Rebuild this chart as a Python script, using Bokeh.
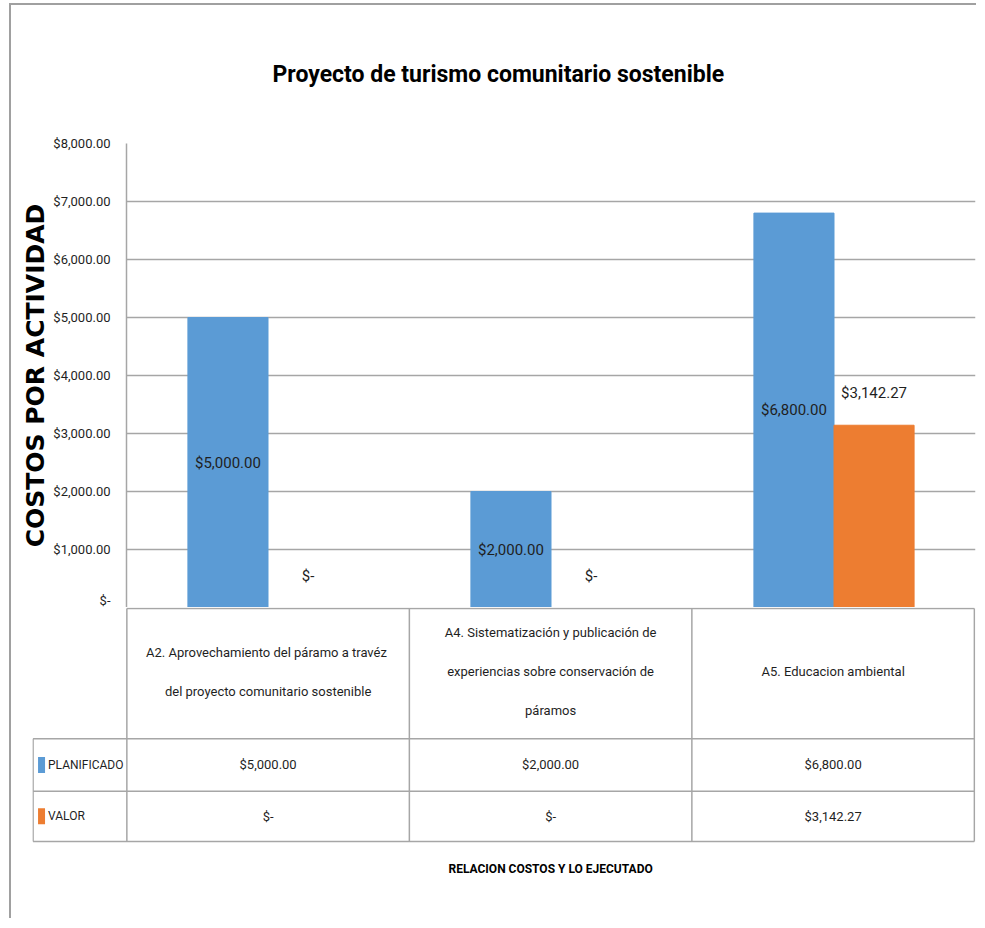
from bokeh.plotting import figure
from bokeh.models import (FactorRange, Range1d, FixedTicker, NumeralTickFormatter,
                          ColumnDataSource, Title)
from bokeh.layouts import column
from bokeh.transform import dodge
from bokeh.embed import file_html
from bokeh.resources import INLINE
from bokeh.core.properties import value

# ---------------- data ----------------
cat_keys = ["A2", "A4", "A5"]
categories = [
    "A2. Aprovechamiento  del páramo a travéz\ndel proyecto comunitario sostenible",
    "A4. Sistematización y publicación de\nexperiencias sobre conservación de\npáramos",
    "A5. Educacion ambiental",
]
planificado = [5000.00, 2000.00, 6800.00]
valor = [0.00, 0.00, 3142.27]
series_names = ["PLANIFICADO", "VALOR"]
y_ticks = [0, 1000, 2000, 3000, 4000, 5000, 6000, 7000, 8000]

title_text = "Proyecto de turismo comunitario sostenible"
y_title = "COSTOS POR ACTIVIDAD"
x_title = "RELACION COSTOS Y LO EJECUTADO"

BLUE = "#5b9bd5"
ORANGE = "#ed7d31"
GRID = "#a6a6a6"
TXT = "#1f1f1f"
FONT = "Roboto"


def fmt(v):
    return "$-" if v == 0 else "${:,.2f}".format(v)


src = ColumnDataSource(dict(
    cat=cat_keys,
    plan=planificado,
    val=valor,
    plan_mid=[v / 2 for v in planificado],
    plan_lbl=[fmt(v) for v in planificado],
    val_lbl=[fmt(v) for v in valor],
))

# ---------------- chart ----------------
pA = figure(x_range=FactorRange(*cat_keys, range_padding=0), y_range=Range1d(0, 8000),
            width=965, height=602, output_backend="svg", toolbar_location=None,
            min_border_left=115, min_border_right=1, min_border_top=138, min_border_bottom=0,
            frame_align=False)
pA.outline_line_color = None
pA.background_fill_color = "white"

bw = 0.283
pA.vbar(x=dodge("cat", -bw / 2, range=pA.x_range), top="plan", width=bw, source=src,
        fill_color=BLUE, line_color=BLUE)
pA.vbar(x=dodge("cat", bw / 2, range=pA.x_range), top="val", width=bw, source=src,
        fill_color=ORANGE, line_color=ORANGE)

pA.text(x=dodge("cat", -bw / 2, range=pA.x_range), y="plan_mid", text="plan_lbl", source=src,
        text_align="center", text_baseline="middle", text_font=value(FONT),
        text_font_size="15px", text_color=TXT)
pA.text(x=dodge("cat", bw / 2, range=pA.x_range), y="val", text="val_lbl", source=src,
        text_align="center", text_baseline="middle", text_font=value(FONT),
        text_font_size="15px", text_color=TXT, y_offset=-32)

pA.xaxis.visible = False
pA.xgrid.grid_line_color = None
pA.ygrid.grid_line_color = GRID
pA.ygrid.grid_line_width = 1.5
pA.yaxis.ticker = FixedTicker(ticks=y_ticks)
pA.yaxis.formatter = NumeralTickFormatter(format="$0,0.00")
pA.yaxis.major_label_overrides = {0: "$-"}
pA.yaxis.major_tick_line_color = None
pA.yaxis.minor_tick_line_color = None
pA.yaxis.major_tick_out = 0
pA.yaxis.major_label_standoff = 16
pA.yaxis.axis_line_color = GRID
pA.yaxis.axis_line_width = 1.5
pA.yaxis.major_label_text_font = FONT
pA.yaxis.major_label_text_font_size = "13px"
pA.yaxis.major_label_text_color = TXT
pA.yaxis.axis_label = y_title
pA.yaxis.axis_label_text_font = "DejaVu Sans"
pA.yaxis.axis_label_text_font_style = "bold"
pA.yaxis.axis_label_text_font_size = "25px"
pA.yaxis.axis_label_text_color = "#000000"
pA.yaxis.axis_label_standoff = 0

pA.title = Title(text=title_text, align="left", offset=146, text_font=FONT,
                 text_font_size="23px", text_font_style="bold", text_color="#000000",
                 vertical_align="top", standoff=108)

# ---------------- data table ----------------
leg_w = 0.332
pB = figure(x_range=Range1d(-leg_w - 0.002, 3.004), y_range=Range1d(-2, 237),
            width=965, height=311, output_backend="svg", toolbar_location=None,
            min_border_left=21, min_border_right=1, min_border_top=0, min_border_bottom=75,
            frame_align=False)
pB.outline_line_color = None
pB.axis.visible = False
pB.grid.grid_line_color = None

n = len(cat_keys)
row_val = (0, 51)
row_plan = (51, 104)
row_head = (104, 236)
# horizontal lines
pB.segment(x0=[0, -leg_w, -leg_w, -leg_w], x1=[n] * 4,
           y0=[row_head[1], row_head[0], row_plan[0], row_val[0]],
           y1=[row_head[1], row_head[0], row_plan[0], row_val[0]],
           line_color=GRID, line_width=1.5)
# vertical lines
xs = list(range(n + 1))
pB.segment(x0=xs + [-leg_w], x1=xs + [-leg_w], y0=[0] * (n + 2),
           y1=[row_head[1]] * (n + 1) + [row_head[0]], line_color=GRID, line_width=1.5)

centers = [i + 0.5 for i in range(n)]
pB.text(x=centers, y=[(row_head[0] + row_head[1]) / 2 + 2] * n, text=categories,
        text_align="center", text_baseline="middle", text_font=value(FONT),
        text_font_size="13px", text_color=TXT, text_line_height=2.6)
pB.text(x=centers, y=[sum(row_plan) / 2] * n, text=[fmt(v) for v in planificado],
        text_align="center", text_baseline="middle", text_font=value(FONT),
        text_font_size="13px", text_color=TXT)
pB.text(x=centers, y=[sum(row_val) / 2] * n, text=[fmt(v) for v in valor],
        text_align="center", text_baseline="middle", text_font=value(FONT),
        text_font_size="13px", text_color=TXT)

# legend keys in the table
pB.rect(x=[-0.302] * 2, y=[sum(row_plan) / 2, sum(row_val) / 2], width=7, height=16,
        width_units="screen", height_units="screen", fill_color=[BLUE, ORANGE], line_color=None)
pB.text(x=[-0.279] * 2, y=[sum(row_plan) / 2, sum(row_val) / 2], text=series_names,
        text_align="left", text_baseline="middle", text_font=value(FONT),
        text_font_size="12px", text_color=TXT)

pB.add_layout(Title(text=x_title, align="left", offset=416, text_font=FONT,
                    text_font_size="12px", text_font_style="bold", text_color="#000000",
                    vertical_align="top", standoff=36), "below")

layout = column(pA, pB, spacing=0,
                styles={"margin-left": "9px", "margin-top": "3px",
                        "border-left": "2px solid #a0a0a0", "border-top": "2px solid #a0a0a0"})

open("out.html", "w").write(file_html(layout, INLINE))
